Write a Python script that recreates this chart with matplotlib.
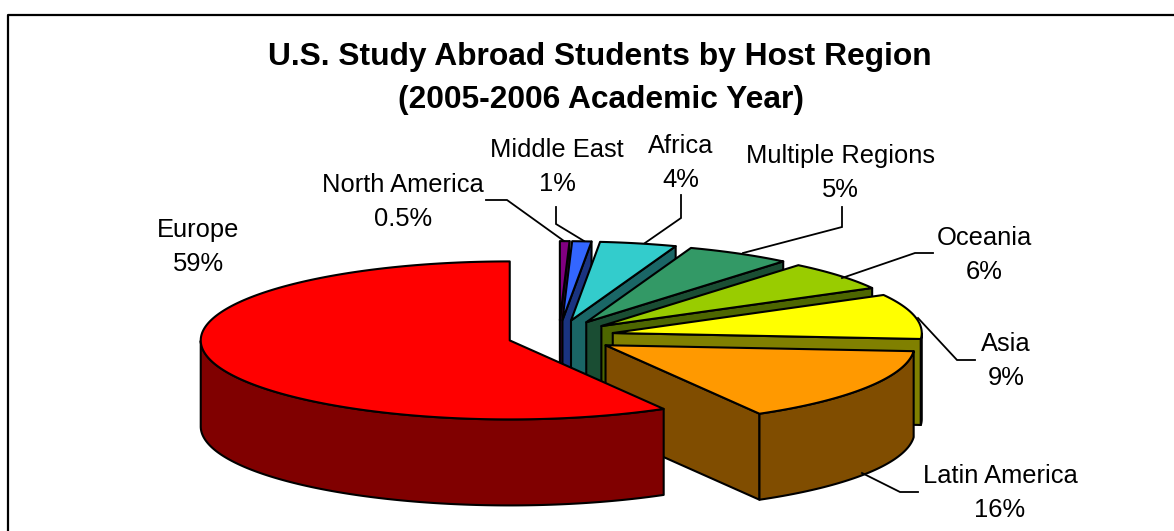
import numpy as np
import matplotlib
matplotlib.use("Agg")
import matplotlib.pyplot as plt
from matplotlib.patches import Polygon

# ---- data ----
regions = ["North America", "Middle East", "Africa", "Multiple Regions",
           "Oceania", "Asia", "Latin America", "Europe"]
shares = [0.5, 1.0, 4.0, 5.5, 6.0, 9.2, 15.5, 58.3]
share_labels = ["0.5%", "1%", "4%", "5%", "6%", "9%", "16%", "59%"]
explode = [0.178, 0.178, 0.178, 0.178, 0.178, 0.178, 0.178, 0.165]
top_colors = ["#800080", "#3366FF", "#33CCCC", "#339966",
              "#99CC00", "#FFFF00", "#FF9900", "#FF0000"]
side_colors = ["#400040", "#1A3380", "#1A6666", "#1A4D33",
               "#4D6600", "#808000", "#804D00", "#800000"]
title_lines = ["U.S. Study Abroad Students by Host Region", "(2005-2006 Academic Year)"]

# ---- layout (pixels) ----
W, H = 1174, 531
CX, CY = 559.0, 336.5
RX, RY = 309.0, 79.0
EXPLODE_RY = 92.0
DEPTH = 86.0
LW = 1.5

label_pos = [(403, 200), (557, 165), (681, 161), (840, 171),
             (984, 253), (1006, 359), (1000, 491), (198, 245)]
leaders = [[(486, 200), (507, 200), (564, 241)],
           [(556, 207), (556, 224), (584, 241)],
           [(681, 195), (681, 218), (645, 243)],
           [(842, 207), (842, 227), (743, 253)],
           [(933, 253), (915, 253), (842, 278)],
           [(975, 360), (957, 360), (918, 318)],
           [(918, 492), (900, 492), (862, 473)]]

plt.rcParams["font.family"] = ["Liberation Sans", "DejaVu Sans"]
fig = plt.figure(figsize=(W / 100, H / 100), dpi=100)
ax = fig.add_axes([0, 0, 1, 1])
ax.set_xlim(0, W)
ax.set_ylim(H, 0)
ax.axis("off")


def poly(pts, color, z):
    ax.add_patch(Polygon(pts, closed=True, facecolor=color, edgecolor="black",
                         linewidth=LW, joinstyle="round", zorder=z))


# frame: only the top and left edges fall inside the picture
ax.plot([8, 8, W + 5], [H + 5, 15, 15], color="black", lw=1.6, zorder=1)

total = sum(shares)
cum = 0.0
z = 2
for i, s in enumerate(shares):
    a0 = 2 * np.pi * cum / total
    a1 = 2 * np.pi * (cum + s) / total
    cum += s
    mid = (a0 + a1) / 2
    ax_c = CX + explode[i] * RX * np.sin(mid)
    ay_c = CY - explode[i] * EXPLODE_RY * np.cos(mid)
    n = max(int((a1 - a0) / 0.01), 4)
    th = np.linspace(a0, a1, n)
    px = ax_c + RX * np.sin(th)
    py = ay_c - RY * np.cos(th)
    # radial walls
    if np.sin(a1) > 1e-6:
        e = (ax_c + RX * np.sin(a1), ay_c - RY * np.cos(a1))
        poly([(ax_c, ay_c), e, (e[0], e[1] + DEPTH), (ax_c, ay_c + DEPTH)], side_colors[i], z)
    if np.sin(a0) < -1e-6:
        e = (ax_c + RX * np.sin(a0), ay_c - RY * np.cos(a0))
        poly([(ax_c, ay_c), e, (e[0], e[1] + DEPTH), (ax_c, ay_c + DEPTH)], side_colors[i], z)
    # outer wall, only the part that faces the viewer
    front = np.cos(th) < 0
    if front.sum() > 1:
        fx, fy = px[front], py[front]
        pts = list(zip(fx, fy)) + list(zip(fx[::-1], fy[::-1] + DEPTH))
        poly(pts, side_colors[i], z)
    # top face
    poly([(ax_c, ay_c)] + list(zip(px, py)), top_colors[i], z + 0.5)
    z += 1

# leader lines
for ln in leaders:
    xs, ys = zip(*ln)
    ax.plot(xs, ys, color="black", lw=1.3, zorder=20, solid_joinstyle="miter")

# labels
for name, pct, (x, y) in zip(regions, share_labels, label_pos):
    ax.text(x, y - 15, name, ha="center", va="center", fontsize=18.4, color="black", zorder=21)
    ax.text(x, y + 19, pct, ha="center", va="center", fontsize=18.4, color="black", zorder=21)

# title
ax.text(600, 57, title_lines[0], ha="center", va="center", fontsize=22.9, fontweight="bold", zorder=21)
ax.text(601, 100, title_lines[1], ha="center", va="center", fontsize=22.9, fontweight="bold", zorder=21)

fig.savefig("out.png", dpi=100)
